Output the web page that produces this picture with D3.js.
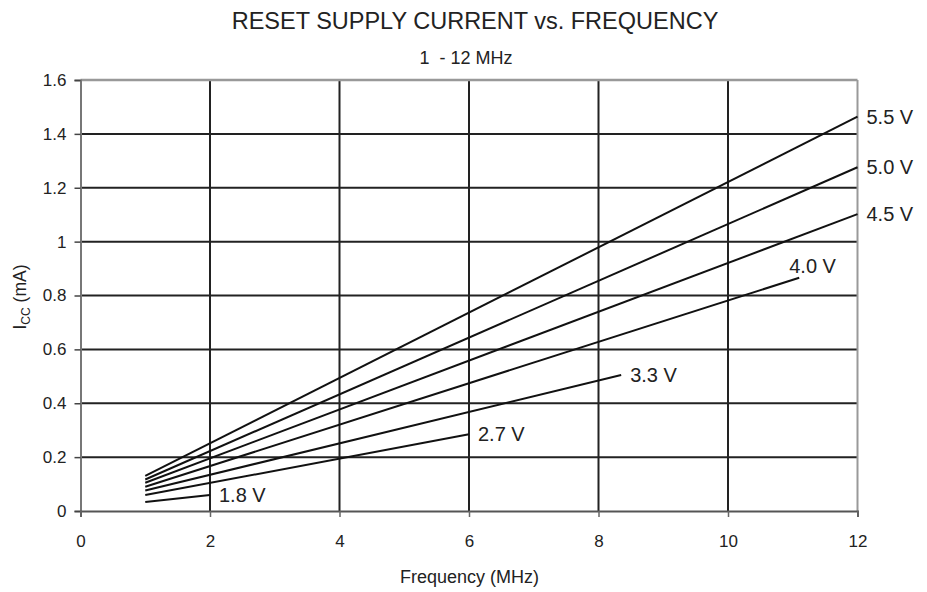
<!DOCTYPE html>
<html>
<head>
<meta charset="utf-8">
<script src="https://cdn.jsdelivr.net/npm/d3@7"></script>
<style>
  html, body { margin: 0; padding: 0; background: #fff; }
  svg text { font-family: "Liberation Sans", Arial, Helvetica, sans-serif; fill: #222; }
</style>
</head>
<body>
<svg id="chart" width="927" height="592"></svg>
<script>
// Supply voltage curves: each is a straight run from its first to its last frequency point
const voltages  = ["5.5 V", "5.0 V", "4.5 V", "4.0 V", "3.3 V", "2.7 V", "1.8 V"];
const freqStart = [1, 1, 1, 1, 1, 1, 1];
const freqEnd   = [12, 12, 12, 11.1, 8.35, 6.0, 2.0];
const iccStart  = [0.130, 0.117, 0.105, 0.090, 0.076, 0.059, 0.033];
const iccEnd    = [1.464, 1.276, 1.102, 0.866, 0.505, 0.285, 0.059];

const xTicks = [0, 2, 4, 6, 8, 10, 12];
const yTicks = [0, 0.2, 0.4, 0.6, 0.8, 1, 1.2, 1.4, 1.6];

const title    = "RESET SUPPLY CURRENT vs. FREQUENCY";
const subtitle = "1  - 12 MHz";
const xTitle   = "Frequency (MHz)";

(function draw() {
  const svg = d3.select("#chart");
  const pLeft = 80.5, pTop = 80, pRight = 857.5, pBottom = 511;

  const x = d3.scaleLinear().domain([0, 12]).range([pLeft, pRight]);
  const y = d3.scaleLinear().domain([0, 1.6]).range([pBottom, pTop]);

  // Titles
  svg.append("text").attr("x", 475).attr("y", 29)
    .attr("text-anchor", "middle").style("font-size", "23.5px").text(title);
  svg.append("text").attr("x", 466).attr("y", 64)
    .attr("text-anchor", "middle").style("font-size", "18px")
    .style("white-space", "pre").text(subtitle);

  // Grid lines
  const grid = svg.append("g");
  grid.selectAll("line.h").data(yTicks.filter(d => d > 0 && d < 1.6)).join("line")
    .attr("class", "h")
    .attr("x1", pLeft).attr("x2", pRight)
    .attr("y1", d => y(d)).attr("y2", d => y(d))
    .attr("stroke", "#222").attr("stroke-width", 2);
  grid.selectAll("line.v").data(xTicks.filter(d => d > 0 && d < 12)).join("line")
    .attr("class", "v")
    .attr("y1", pTop).attr("y2", pBottom)
    .attr("x1", d => x(d)).attr("x2", d => x(d))
    .attr("stroke", "#222").attr("stroke-width", 2);

  // Plot frame (top and right edges)
  svg.append("line").attr("x1", pLeft).attr("x2", pRight).attr("y1", pTop).attr("y2", pTop)
    .attr("stroke", "#999").attr("stroke-width", 2.5);
  svg.append("line").attr("x1", pRight).attr("x2", pRight).attr("y1", pTop).attr("y2", pBottom)
    .attr("stroke", "#999").attr("stroke-width", 2);

  // Axes
  const yAxis = svg.append("g").attr("transform", `translate(${pLeft},0)`)
    .call(d3.axisLeft(y).tickValues(yTicks).tickFormat(d3.format("~g")).tickSizeOuter(0).tickSize(6).tickPadding(8));
  yAxis.select(".domain").attr("stroke", "#777").attr("stroke-width", 2);
  yAxis.selectAll(".tick line").attr("stroke", "#444").attr("stroke-width", 1.5);
  yAxis.selectAll(".tick text").style("font-size", "17px").attr("fill", "#222");

  const xAxis = svg.append("g").attr("transform", `translate(0,${pBottom})`)
    .call(d3.axisBottom(x).tickValues(xTicks).tickSizeOuter(0).tickSize(6).tickPadding(18));
  xAxis.select(".domain").attr("stroke", "#555").attr("stroke-width", 2);
  xAxis.selectAll(".tick line").attr("stroke", "#666").attr("stroke-width", 1.5);
  xAxis.selectAll(".tick text").style("font-size", "17px").attr("fill", "#222");

  // Axis titles
  svg.append("text").attr("x", 469.5).attr("y", 583)
    .attr("text-anchor", "middle").style("font-size", "18px").text(xTitle);
  const yt = svg.append("text").attr("transform", "translate(26,297) rotate(-90)")
    .attr("text-anchor", "middle").style("font-size", "17.5px");
  yt.append("tspan").text("I");
  yt.append("tspan").attr("dy", 4).style("font-size", "12px").text("CC");
  yt.append("tspan").attr("dy", -4).text(" (mA)");

  // Curves
  const series = voltages.map((v, i) => ({
    name: v,
    pts: [[freqStart[i], iccStart[i]], [freqEnd[i], iccEnd[i]]]
  }));
  const line = d3.line().x(d => x(d[0])).y(d => y(d[1]));
  svg.append("g").selectAll("path").data(series).join("path")
    .attr("d", d => line(d.pts))
    .attr("fill", "none").attr("stroke", "#111").attr("stroke-width", 2);

  // End labels; the 4.0 V label sits above its line end
  const labelShift = { "4.0 V": [-10, -12] };
  svg.append("g").selectAll("text").data(series).join("text")
    .attr("x", d => x(d.pts[1][0]) + (labelShift[d.name] ? labelShift[d.name][0] : 9))
    .attr("y", d => y(d.pts[1][1]) + (labelShift[d.name] ? labelShift[d.name][1] : 0))
    .attr("dy", "0.36em")
    .style("font-size", "20px")
    .text(d => d.name);
})();
</script>
</body>
</html>
